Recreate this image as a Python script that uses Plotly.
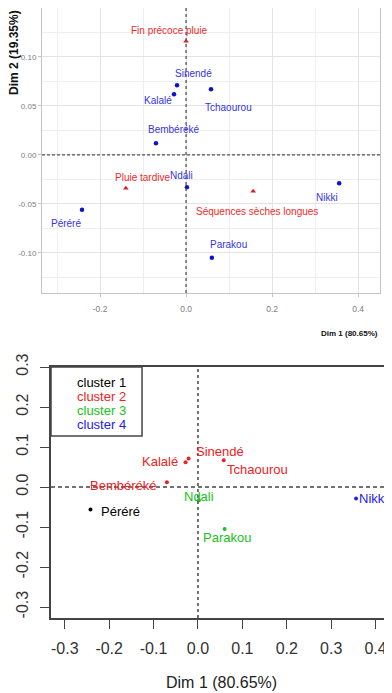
import plotly.graph_objects as go

# ---------------- data ----------------
cities = ["Sinendé", "Kalalé", "Tchaourou", "Bembéréké", "Ndali", "Nikki", "Parakou", "Péréré"]
city_dim1 = [-0.021, -0.028, 0.058, -0.070, 0.002, 0.356, 0.060, -0.242]
city_dim2 = [0.071, 0.062, 0.067, 0.012, -0.033, -0.029, -0.105, -0.056]
city_cluster = [2, 2, 2, 2, 3, 4, 3, 1]

climate = ["Fin précoce pluie", "Pluie tardive", "Séquences sèches longues"]
clim_dim1 = [0.000, -0.140, 0.156]
clim_dim2 = [0.116, -0.034, -0.037]

cluster_names = ["cluster 1", "cluster 2", "cluster 3", "cluster 4"]
top_xticks = [-0.2, 0.0, 0.2, 0.4]
top_xtext = ["-0.2", "0.0", "0.2", "0.4"]
top_yticks = [-0.10, -0.05, 0.00, 0.05, 0.10]
top_ytext = ["-0.10", "-0.05", "0.00", "0.05", "0.10"]
bot_xticks = [-0.3, -0.2, -0.1, 0.0, 0.1, 0.2, 0.3, 0.4]
bot_xtext = ["-0.3", "-0.2", "-0.1", "0.0", "0.1", "0.2", "0.3", "0.4"]
bot_yticks = [-0.3, -0.2, -0.1, 0.0, 0.1, 0.2, 0.3]
bot_ytext = ["-0.3", "-0.2", "-0.1", "0.0", "0.1", "0.2", "0.3"]

# ---------------- styles ----------------
OFF = 8                      # page body margin of the html page
W, H = 392 - OFF, 693 - OFF  # figure size
cluster_colors = {1: "black", 2: "#ee2222", 3: "#22c022", 4: "#2222ee"}
arial = "Liberation Sans, Arial, sans-serif"

# label offsets (pixels) for the top biplot
top_city_off = {"Sinendé": (16, 12), "Kalalé": (-16, -6), "Tchaourou": (17, -18),
                "Bembéréké": (18, 14), "Ndali": (-5, 12), "Nikki": (-12, -14),
                "Parakou": (17, 13), "Péréré": (-16, -14)}
top_clim_off = {"Fin précoce pluie": (-17, 11), "Pluie tardive": (17, 11),
                "Séquences sèches longues": (4, -20)}
# label placement for the bottom cluster plot: (xanchor, xshift, yshift)
bot_off = {"Sinendé": ("left", 5, 7), "Kalalé": ("right", -6, 1), "Tchaourou": ("left", 1, -9),
           "Bembéréké": ("right", -9, -3), "Ndali": ("center", 0, 4), "Nikki": ("left", 1, 0),
           "Parakou": ("center", 2, -8), "Péréré": ("left", 8, -2)}


def fx(p):  # page pixel x -> paper
    return (p - OFF) / W


def fy(p):  # page pixel y -> paper
    return 1 - (p - OFF) / H


fig = go.Figure()

# ---- top biplot ----
fig.add_trace(go.Scatter(x=city_dim1, y=city_dim2, mode="markers", xaxis="x", yaxis="y",
                         marker=dict(color="#1010d0", size=4.5), hoverinfo="text", text=cities,
                         showlegend=False))
fig.add_trace(go.Scatter(x=clim_dim1, y=clim_dim2, mode="markers", xaxis="x", yaxis="y",
                         marker=dict(color="#e02020", size=5, symbol="triangle-up"),
                         hoverinfo="text", text=climate, showlegend=False))

annotations = []
for name, x, y in zip(cities, city_dim1, city_dim2):
    dx, dy = top_city_off[name]
    annotations.append(dict(x=x, y=y, xref="x", yref="y", text=name, showarrow=False,
                            xanchor="center", yanchor="middle",
                            xshift=dx, yshift=dy, font=dict(family=arial, size=10, color="#3535e0")))
for name, x, y in zip(climate, clim_dim1, clim_dim2):
    dx, dy = top_clim_off[name]
    annotations.append(dict(x=x, y=y, xref="x", yref="y", text=name, showarrow=False,
                            xanchor="center", yanchor="middle",
                            xshift=dx, yshift=dy, font=dict(family=arial, size=10, color="#ee2a2a")))

# ---- bottom cluster plot ----
for c in [1, 2, 3, 4]:
    xs = [x for x, k in zip(city_dim1, city_cluster) if k == c]
    ys = [y for y, k in zip(city_dim2, city_cluster) if k == c]
    fig.add_trace(go.Scatter(x=xs, y=ys, mode="markers", xaxis="x2", yaxis="y2",
                             marker=dict(color=cluster_colors[c], size=4),
                             showlegend=False, hoverinfo="skip"))
for name, x, y, c in zip(cities, city_dim1, city_dim2, city_cluster):
    xa, dx, dy = bot_off[name]
    annotations.append(dict(x=x, y=y, xref="x2", yref="y2", text=name, showarrow=False,
                            xanchor=xa, yanchor="middle", xshift=dx, yshift=dy,
                            font=dict(family=arial, size=13, color=cluster_colors[c])))

# legend text
leg_y = [0.2625, 0.2275, 0.1925, 0.1575]
for i, nm in enumerate(cluster_names):
    annotations.append(dict(x=-0.277, y=leg_y[i], xref="x2", yref="y2", text=nm, showarrow=False,
                            xanchor="left", yanchor="middle",
                            font=dict(family=arial, size=13, color=cluster_colors[i + 1])))

# axis titles
annotations.append(dict(x=fx(14), y=fy(53), xref="paper", yref="paper", text="<b>Dim 2 (19.35%)</b>",
                        xanchor="center", yanchor="middle",
                        textangle=-90, showarrow=False, font=dict(family=arial, size=12, color="#111")))
annotations.append(dict(x=fx(380), y=fy(333), xref="paper", yref="paper", text="<b>Dim 1 (80.65%)</b>",
                        xanchor="right", yanchor="middle", showarrow=False,
                        font=dict(family=arial, size=8, color="#111")))
annotations.append(dict(x=fx(221), y=fy(682), xref="paper", yref="paper", text="Dim 1 (80.65%)",
                        xanchor="center", yanchor="middle",
                        showarrow=False, font=dict(family=arial, size=16, color="#222")))

shapes = [
    dict(type="line", xref="x domain", yref="y", x0=0, x1=1, y0=0, y1=0,
         line=dict(color="#555", width=1.3, dash="3px,2px")),
    dict(type="line", xref="x", yref="y domain", x0=0, x1=0, y0=0, y1=1,
         line=dict(color="#555", width=1.3, dash="3px,3px")),
    dict(type="line", xref="x2 domain", yref="y2", x0=0, x1=1, y0=0, y1=0,
         line=dict(color="#444", width=1.5, dash="4px,3px")),
    dict(type="line", xref="x2", yref="y2 domain", x0=0, x1=0, y0=0, y1=1,
         line=dict(color="#444", width=1.5, dash="3px,3px")),
    dict(type="rect", xref="x2", yref="y2", x0=-0.331, x1=-0.126, y0=0.1275, y1=0.30,
         line=dict(color="#444", width=1.5)),
]

fig.update_layout(
    width=W, height=H, margin=dict(l=0, r=0, t=0, b=0, autoexpand=False),
    paper_bgcolor="white", plot_bgcolor="white",
    annotations=annotations, shapes=shapes,
    xaxis=dict(domain=[fx(42), fx(380)], range=[-0.335, 0.451], anchor="y", automargin=False,
               tickvals=top_xticks, ticktext=top_xtext,
               showgrid=True, gridcolor="#e3e3e3", gridwidth=1,
               minor=dict(dtick=0.1, tick0=0, showgrid=True, gridcolor="#eeeeee"),
               zeroline=False, showline=True, linecolor="#c4c4c4", mirror=True,
               ticks="outside", ticklen=3, tickcolor="#c4c4c4",
               tickfont=dict(family=arial, size=8.5, color="#808080"), ticklabelstandoff=5),
    yaxis=dict(domain=[fy(293), fy(8)], range=[-0.141, 0.15], anchor="x", automargin=False,
               tickvals=top_yticks, ticktext=top_ytext,
               showgrid=True, gridcolor="#e3e3e3", gridwidth=1,
               minor=dict(dtick=0.025, tick0=0, showgrid=True, gridcolor="#eeeeee"),
               zeroline=False, showline=True, linecolor="#c4c4c4", mirror=True,
               ticks="outside", ticklen=3, tickcolor="#c4c4c4",
               tickfont=dict(family=arial, size=8, color="#808080")),
    xaxis2=dict(domain=[fx(51), 1], range=[-0.331, 0.437], anchor="y2", automargin=False,
                tickvals=bot_xticks, ticktext=bot_xtext, showgrid=False, zeroline=False,
                showline=True, linecolor="#444", linewidth=1.5, mirror=True,
                ticks="outside", ticklen=9, tickwidth=1.3, tickcolor="#444",
                tickfont=dict(family=arial, size=16, color="#333"), ticklabelstandoff=6),
    yaxis2=dict(domain=[fy(618), fy(367)], range=[-0.3275, 0.30], anchor="x2", automargin=False,
                tickvals=bot_yticks, ticktext=bot_ytext, showgrid=False, zeroline=False,
                showline=True, linecolor="#444", linewidth=1.5, mirror=False,
                ticks="outside", ticklen=9, tickwidth=1.3, tickcolor="#444", tickangle=-90,
                tickfont=dict(family=arial, size=16, color="#333"), ticklabelstandoff=6),
)

fig.write_html("out.html")
